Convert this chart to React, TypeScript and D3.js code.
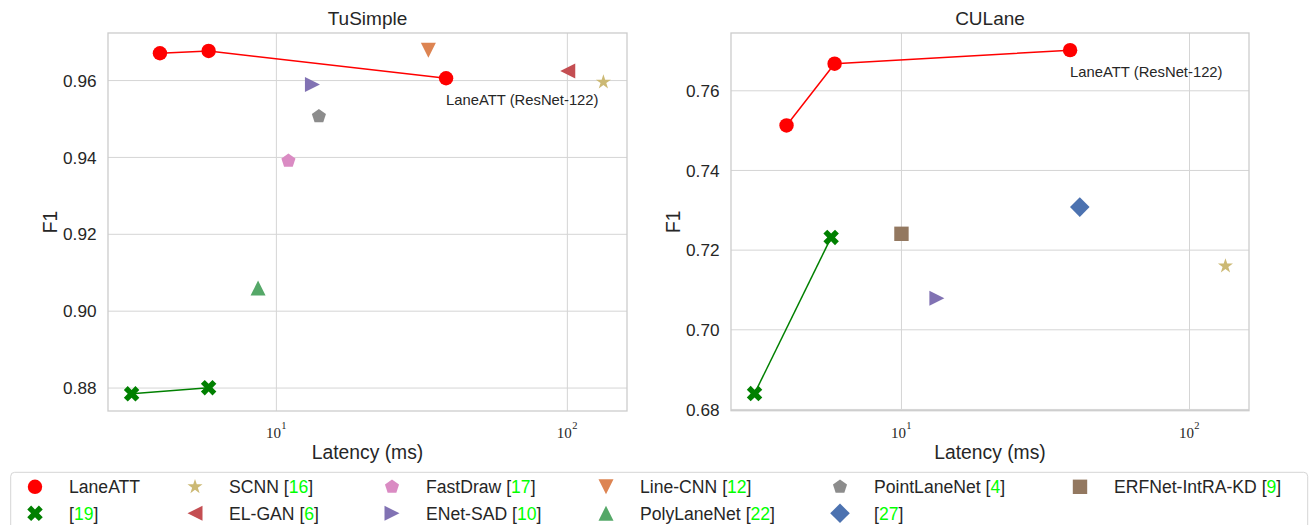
import * as React from "react";
import * as d3 from "d3";

// ---- data ----
// TuSimple
const tuLaneAttLatency = [3.98, 5.85, 38.3];
const tuLaneAttF1 = [0.9671, 0.9677, 0.9606];
const tuRef19Latency = [3.18, 5.85];
const tuRef19F1 = [0.8785, 0.8801];
const tuMethods = ["SCNN", "EL-GAN", "FastDraw", "ENet-SAD", "Line-CNN", "PolyLaneNet", "PointLaneNet"];
const tuLatency = [133, 100.3, 11.0, 13.3, 33.3, 8.65, 14.0];
const tuF1 = [0.9596, 0.9625, 0.9391, 0.959, 0.9679, 0.906, 0.9507];

// CULane
const cuLaneAttLatency = [3.99, 5.86, 38.5];
const cuLaneAttF1 = [0.7513, 0.7668, 0.7702];
const cuRef19Latency = [3.09, 5.7];
const cuRef19F1 = [0.684, 0.7232];
const cuMethods = ["ERFNet-IntRA-KD", "ENet-SAD", "[27]", "SCNN"];
const cuLatency = [10.0, 13.27, 41.6, 133.3];
const cuF1 = [0.7241, 0.7079, 0.7308, 0.716];

const tuYTicks = [0.88, 0.9, 0.92, 0.94, 0.96];
const cuYTicks = [0.68, 0.7, 0.72, 0.74, 0.76];
const xTicks = [10, 100];

// legend, column by column (two rows)
const legendNames = ["LaneATT", "", "SCNN ", "EL-GAN ", "FastDraw ", "ENet-SAD ", "Line-CNN ", "PolyLaneNet ", "PointLaneNet ", "", "ERFNet-IntRA-KD "];
const legendRefs = ["", "19", "16", "6", "17", "10", "12", "22", "4", "27", "9"];
const legendKeys = ["LaneATT", "[19]", "SCNN", "EL-GAN", "FastDraw", "ENet-SAD", "Line-CNN", "PolyLaneNet", "PointLaneNet", "[27]", "ERFNet-IntRA-KD"];

// ---- styles ----
const styles = {
  "LaneATT": { shape: "circle", color: "#ff0000" },
  "[19]": { shape: "x", color: "#008000" },
  "SCNN": { shape: "star", color: "#ccb974" },
  "EL-GAN": { shape: "tri-left", color: "#c44e52" },
  "FastDraw": { shape: "pentagon", color: "#da8bc3" },
  "ENet-SAD": { shape: "tri-right", color: "#8172b3" },
  "Line-CNN": { shape: "tri-down", color: "#dd8452" },
  "PolyLaneNet": { shape: "tri-up", color: "#55a868" },
  "PointLaneNet": { shape: "pentagon", color: "#8c8c8c" },
  "[27]": { shape: "diamond", color: "#4c72b0" },
  "ERFNet-IntRA-KD": { shape: "square", color: "#937860" },
};

const FONT = "'Liberation Sans', Arial, Helvetica, sans-serif";
const TEXT = "#262626";
const GRID = "#d5d5d5";

function markerPath(shape) {
  const p = d3.path();
  if (shape === "circle") return d3.symbol(d3.symbolCircle, Math.PI * 7.2 * 7.2)();
  if (shape === "star") return d3.symbol(d3.symbolStar, (7.9 * 7.9) / 0.8908130915292852)();
  if (shape === "x") return d3.symbol(d3.symbolCross, 150)();
  if (shape.startsWith("tri")) {
    const s = 7.5;
    p.moveTo(0, -s); p.lineTo(-s, s); p.lineTo(s, s); p.closePath();
    return p.toString();
  }
  if (shape === "square") {
    const s = 7.2;
    p.rect(-s, -s, 2 * s, 2 * s);
    return p.toString();
  }
  if (shape === "diamond") {
    const s = 9.8;
    p.moveTo(0, -s); p.lineTo(s, 0); p.lineTo(0, s); p.lineTo(-s, 0); p.closePath();
    return p.toString();
  }
  if (shape === "pentagon") {
    const r = 7.4;
    for (let i = 0; i < 5; i++) {
      const a = -Math.PI / 2 + (i * 2 * Math.PI) / 5;
      if (i === 0) p.moveTo(r * Math.cos(a), r * Math.sin(a));
      else p.lineTo(r * Math.cos(a), r * Math.sin(a));
    }
    p.closePath();
    return p.toString();
  }
  return "";
}

function rotation(shape) {
  if (shape === "x") return 45;
  if (shape === "tri-down") return 180;
  if (shape === "tri-left") return -90;
  if (shape === "tri-right") return 90;
  return 0;
}

function Marker({ x, y, name }) {
  const st = styles[name];
  return (
    <path
      d={markerPath(st.shape)}
      fill={st.color}
      transform={`translate(${x},${y}) rotate(${rotation(st.shape)})`}
    />
  );
}

function Panel({ title, box, laneLat, laneF1, refLat, refF1, methods, lat, f1, yTicks }) {
  const allX = [...laneLat, ...refLat, ...lat];
  const allY = [...laneF1, ...refF1, ...f1];
  const lx = d3.extent(allX.map(Math.log10));
  const px = (lx[1] - lx[0]) * 0.05;
  const ey = d3.extent(allY);
  const py = (ey[1] - ey[0]) * 0.05;

  const x = d3.scaleLog().domain([10 ** (lx[0] - px), 10 ** (lx[1] + px)]).range([box.x0, box.x1]);
  const y = d3.scaleLinear().domain([ey[0] - py, ey[1] + py]).range([box.y1, box.y0]);

  const line = d3.line().x((d) => x(d[0])).y((d) => y(d[1]));
  const lanePts = laneLat.map((v, i) => [v, laneF1[i]]);
  const refPts = refLat.map((v, i) => [v, refF1[i]]);
  const cx = (box.x0 + box.x1) / 2;
  const cy = (box.y0 + box.y1) / 2;
  const last = lanePts[lanePts.length - 1];

  return (
    <g>
      {yTicks.map((t) => (
        <g key={"y" + t}>
          <line x1={box.x0} x2={box.x1} y1={y(t)} y2={y(t)} stroke={GRID} strokeWidth={1} />
          <text x={box.x0 - 11.5} y={y(t)} dy="0.36em" textAnchor="end" fontSize={17.2} fill={TEXT} fontFamily={FONT}>
            {d3.format(".2f")(t)}
          </text>
        </g>
      ))}
      {xTicks.map((t) => (
        <g key={"x" + t}>
          <line x1={x(t)} x2={x(t)} y1={box.y0} y2={box.y1} stroke={GRID} strokeWidth={1} />
          <text x={x(t) - 3} y={437.5} textAnchor="middle" fontSize={15} fill={TEXT} fontFamily="'Liberation Serif', 'DejaVu Serif', serif">
            10
          </text>
          <text x={x(t) + 7.5} y={428.5} textAnchor="middle" fontSize={10.5} fill={TEXT} fontFamily="'Liberation Serif', 'DejaVu Serif', serif">
            {Math.round(Math.log10(t))}
          </text>
        </g>
      ))}
      <rect x={box.x0} y={box.y0} width={box.x1 - box.x0} height={box.y1 - box.y0} fill="none" stroke="#cccccc" strokeWidth={1.3} />

      <path d={line(lanePts)} fill="none" stroke="#ff0000" strokeWidth={1.5} />
      <path d={line(refPts)} fill="none" stroke="#008000" strokeWidth={1.5} />
      {methods.map((m, i) => (
        <Marker key={m} x={x(lat[i])} y={y(f1[i])} name={m} />
      ))}
      {lanePts.map((d, i) => (
        <Marker key={"l" + i} x={x(d[0])} y={y(d[1])} name="LaneATT" />
      ))}
      {refPts.map((d, i) => (
        <Marker key={"r" + i} x={x(d[0])} y={y(d[1])} name="[19]" />
      ))}
      <text x={x(last[0])} y={y(last[1]) + 27} fontSize={14.8} fill={TEXT} fontFamily={FONT}>
        LaneATT (ResNet-122)
      </text>

      <text x={cx} y={25} textAnchor="middle" fontSize={19} fill={TEXT} fontFamily={FONT}>
        {title}
      </text>
      <text x={cx} y={458.5} textAnchor="middle" fontSize={19.3} fill={TEXT} fontFamily={FONT}>
        Latency (ms)
      </text>
      <text transform={`translate(${box.x0 - 51},${cy}) rotate(-90)`} textAnchor="middle" fontSize={19.3} fill={TEXT} fontFamily={FONT}>
        F1
      </text>
    </g>
  );
}

const legendCols = [35, 195, 392, 606, 840, 1080];
const legendRows = [486.8, 513.3];

function Legend() {
  return (
    <g>
      <rect x={10.7} y={472.3} width={1297} height={70} rx={4} fill="#ffffff" stroke="#d5d5d5" strokeWidth={1} />
      {legendKeys.map((k, i) => {
        const cx = legendCols[Math.floor(i / 2)];
        const cy = legendRows[i % 2];
        return (
          <g key={k}>
            <Marker x={cx} y={cy} name={k} />
            <text x={cx + 34} y={cy + 6.5} fontSize={17.6} fill={TEXT} fontFamily={FONT}>
              {legendNames[i]}
              {legendRefs[i] && (
                <>
                  [<tspan fill="#00ff00">{legendRefs[i]}</tspan>]
                </>
              )}
            </text>
          </g>
        );
      })}
    </g>
  );
}

export default function App() {
  return (
    <svg width={1310} height={525} style={{ position: "absolute", left: 0, top: 0, background: "#fff" }}>
      <Panel
        title="TuSimple"
        box={{ x0: 108, x1: 627, y0: 33, y1: 411 }}
        laneLat={tuLaneAttLatency}
        laneF1={tuLaneAttF1}
        refLat={tuRef19Latency}
        refF1={tuRef19F1}
        methods={tuMethods}
        lat={tuLatency}
        f1={tuF1}
        yTicks={tuYTicks}
      />
      <Panel
        title="CULane"
        box={{ x0: 731, x1: 1249, y0: 33, y1: 410.7 }}
        laneLat={cuLaneAttLatency}
        laneF1={cuLaneAttF1}
        refLat={cuRef19Latency}
        refF1={cuRef19F1}
        methods={cuMethods}
        lat={cuLatency}
        f1={cuF1}
        yTicks={cuYTicks}
      />
      <Legend />
    </svg>
  );
}
